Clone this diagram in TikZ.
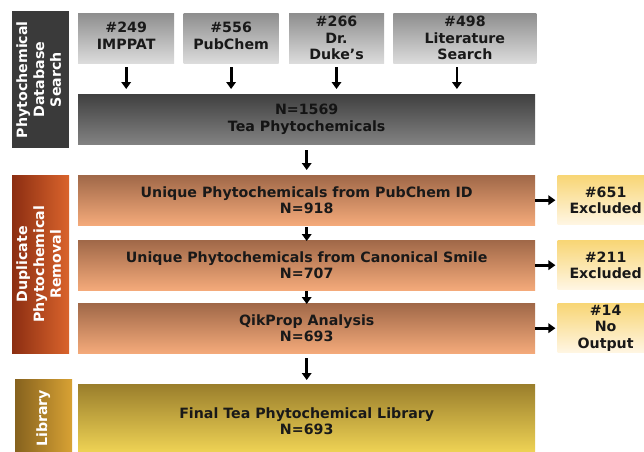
\documentclass[tikz,border=0pt]{standalone}
\usepackage{fontspec}
\setmainfont{DejaVu Sans}
\usetikzlibrary{arrows.meta,positioning}
\definecolor{srctop}{HTML}{8E8E8E}
\definecolor{srcbot}{HTML}{DCDCDC}
\definecolor{alltop}{HTML}{404040}
\definecolor{allbot}{HTML}{828282}
\definecolor{duptop}{HTML}{A06848}
\definecolor{dupbot}{HTML}{F4AA7A}
\definecolor{exctop}{HTML}{F8D676}
\definecolor{excbot}{HTML}{FFF6E4}
\definecolor{libtop}{HTML}{9A7E2C}
\definecolor{libbot}{HTML}{F6DA58}
\definecolor{sideone}{HTML}{3A3A3A}
\definecolor{sidetwoL}{HTML}{8C2E12}
\definecolor{sidetwoR}{HTML}{DA642C}
\definecolor{sidethreeL}{HTML}{86621E}
\definecolor{sidethreeR}{HTML}{D8A234}

\newcommand{\sidetext}[1]{\rotatebox{90}{\def\arraystretch{1.02}\begin{tabular}{@{}c@{}}#1\end{tabular}}}

\begin{document}
\begin{tikzpicture}[x=1pt,y=-1pt,
   every node/.style={font=\bfseries\fontsize{14.2}{16.5}\selectfont,
     text=black!90,align=center,inner sep=0pt,anchor=north west},
   srcbox/.style={top color=srctop,bottom color=srcbot,minimum height=50pt},
   mainbox/.style={minimum width=457pt,minimum height=50pt},
   dupbox/.style={mainbox,top color=duptop,bottom color=dupbot},
   excbox/.style={top color=exctop,bottom color=excbot,minimum width=96pt,minimum height=49pt},
   sidebox/.style={text=white,minimum width=57pt},
   arr/.style={line width=2.8pt,-{Triangle[width=9.5pt,length=7pt]}}]
\useasboundingbox (0,0) rectangle (644,451);

% side labels
\node[sidebox,fill=sideone,minimum height=137pt] (dbside) at (12,11)
   {\sidetext{Phytochemical\\Database\\Search}};
\node[sidebox,left color=sidetwoL,right color=sidetwoR,minimum height=178pt] (dupside) at (12,175)
   {\sidetext{Duplicate\\Phytochemical\\Removal}};
\node[sidebox,left color=sidethreeL,right color=sidethreeR,minimum height=78pt] (libside) at (15,379)
   {\sidetext{Library}};

% database search
\node[srcbox,minimum width=96pt] (imppat) at (78,13) {\#249\\IMPPAT\strut};
\node[srcbox,minimum width=95pt,right=9pt of imppat] (pubchem) {\#556\\PubChem\strut};
\node[srcbox,minimum width=95pt,right=10pt of pubchem] (duke) {\#266\\Dr.\\Duke’s};
\node[srcbox,minimum width=143pt,right=9pt of duke] (lit) {\#498\\Literature\\Search};
\node[mainbox,top color=alltop,bottom color=allbot,text=black!92] (total) at (78,94)
   {N=1569\\Tea Phytochemicals};

% duplicate removal
\node[dupbox] (pcid) at (78,175) {Unique Phytochemicals from PubChem ID\\N=918};
\node[dupbox] (smile) at (78,240) {Unique Phytochemicals from Canonical Smile\\N=707};
\node[dupbox] (qik) at (78,303) {QikProp Analysis\\N=693};
\node[excbox,right=22pt of pcid] (exone) {\#651\\Excluded};
\node[excbox,right=22pt of smile] (extwo) {\#211\\Excluded};
\node[excbox,right=22pt of qik] (exthree) {\#14\\No\\Output};

% library
\node[mainbox,top color=libtop,bottom color=libbot,minimum height=74pt] (final) at (78,384)
   {Final Tea Phytochemical Library\\N=693};

% arrows
\foreach \src in {imppat,pubchem,duke}
  \draw[arr,shorten <=4pt,shorten >=5pt] (\src.south) -- (\src.south |- total.north);
\draw[arr,shorten <=4pt,shorten >=5pt] ([xshift=-8pt]lit.south) -- ([xshift=-8pt]lit.south |- total.north);
\draw[arr,shorten <=6pt,shorten >=5pt] (total) -- (pcid);
\draw[arr,shorten <=2pt,shorten >=-1pt] (pcid) -- (smile);
\draw[arr,shorten <=1pt,shorten >=-1pt] (smile) -- (qik);
\draw[arr,shorten <=5pt,shorten >=4pt] (qik) -- (final);
\draw[arr,shorten <=0pt,shorten >=2pt] (pcid) -- (exone);
\draw[arr,shorten <=0pt,shorten >=2pt] (smile) -- (extwo);
\draw[arr,shorten <=0pt,shorten >=2pt] (qik) -- (exthree);
\end{tikzpicture}
\end{document}
